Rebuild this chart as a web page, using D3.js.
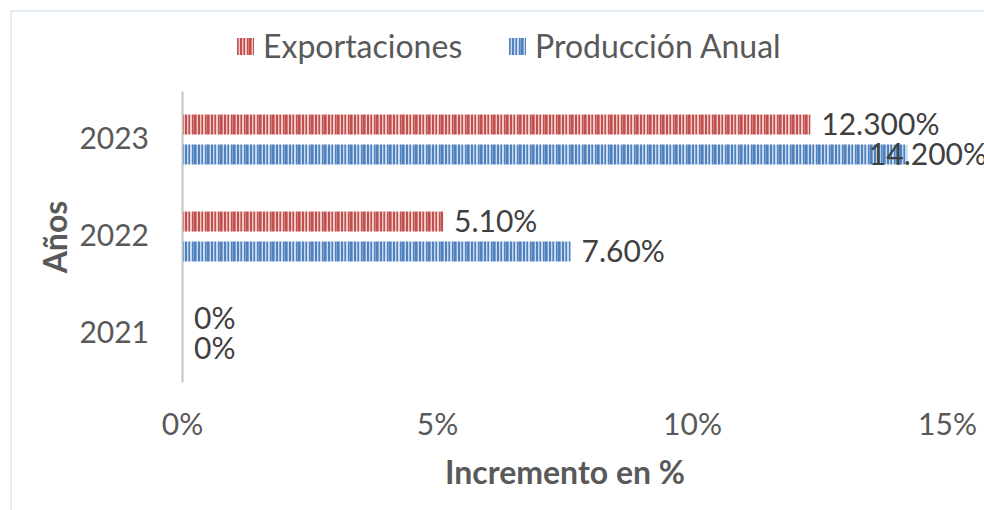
<!DOCTYPE html>
<html>
<head>
<meta charset="utf-8">
<script src="https://cdn.jsdelivr.net/npm/d3@7"></script>
<style>
  html, body { margin: 0; padding: 0; background: #fff; }
  svg { display: block; font-family: Lato, "Open Sans", sans-serif; }
</style>
</head>
<body>
<svg id="chart" width="984" height="510"></svg>
<script>
// Years shown on the category axis (top to bottom)
const years = ["2023", "2022", "2021"];
// Series names, in legend order
const seriesNames = ["Exportaciones", "Producción Anual"];
// Yearly increase, as fractions
const exportaciones = [0.123, 0.051, 0];
const produccion = [0.142, 0.076, 0];
// Data label texts
const exportLabels = ["12.300%", "5.10%", "0%"];
const prodLabels = ["14.200%", "7.60%", "0%"];
// Value axis ticks
const xTicks = [0, 0.05, 0.10, 0.15];
const xTickLabels = ["0%", "5%", "10%", "15%"];

const W = 984, H = 510;
const svg = d3.select("#chart");

const palette = {
  "Exportaciones": { dark: "#c0504d", mid: "#d67e7b", light: "#efc9c8" },
  "Producción Anual": { dark: "#4f81bd", mid: "#7ea3d2", light: "#c9d9ef" }
};

// Striped fills for the bars
const defs = svg.append("defs");
const stripeSeq = ["dark", "mid", "light", "dark", "dark", "light", "mid", "dark", "light", "light", "dark", "mid", "dark"];
seriesNames.forEach((name, i) => {
  const p = defs.append("pattern")
    .attr("id", "stripes" + i)
    .attr("patternUnits", "userSpaceOnUse")
    .attr("width", stripeSeq.length)
    .attr("height", 40);
  stripeSeq.forEach((shade, k) => {
    p.append("rect").attr("x", k).attr("y", 0).attr("width", 1).attr("height", 40)
      .attr("fill", palette[name][shade]);
  });
});

// Chart frame
svg.append("rect")
  .attr("x", 11).attr("y", 11).attr("width", W + 20).attr("height", H + 20)
  .attr("fill", "none").attr("stroke", "#dce7f4").attr("stroke-width", 1.5);

const x = d3.scaleLinear().domain([0, 0.15]).range([182, 947]);
const y = d3.scaleBand().domain(years).range([91, 382]).paddingInner(0.485).paddingOuter(0.2425);
const inner = d3.scaleBand().domain(seriesNames).range([0, y.bandwidth()]).paddingInner(1 / 3);

const rows = years.map((yr, i) => ({
  year: yr,
  values: [
    { name: seriesNames[0], v: exportaciones[i], label: exportLabels[i], idx: 0 },
    { name: seriesNames[1], v: produccion[i], label: prodLabels[i], idx: 1 }
  ]
}));

// Value axis tick labels
const xAxis = d3.axisBottom(x).tickValues(xTicks).tickSize(0).tickPadding(0)
  .tickFormat((d, i) => xTickLabels[i]);
const gx = svg.append("g").attr("transform", "translate(0,414)").call(xAxis);
gx.select(".domain").remove();
gx.selectAll("text").attr("fill", "#595959").attr("font-size", 30)
  .attr("font-family", "Lato, sans-serif").attr("dy", "0.71em");

// Category axis
const yAxis = d3.axisLeft(y).tickSize(0).tickPadding(33);
const gy = svg.append("g").attr("transform", "translate(182,0)").call(yAxis);
gy.select(".domain").attr("stroke", "#c4c4c4").attr("stroke-width", 2);
gy.selectAll("text").attr("fill", "#595959").attr("font-size", 30)
  .attr("font-family", "Lato, sans-serif");

// Bars
const groups = svg.append("g").selectAll("g").data(rows).join("g")
  .attr("transform", d => `translate(0,${y(d.year)})`);

groups.selectAll("rect").data(d => d.values).join("rect")
  .attr("x", x(0) + 1)
  .attr("y", d => inner(d.name))
  .attr("width", d => Math.max(0, x(d.v) - x(0)))
  .attr("height", inner.bandwidth())
  .attr("fill", d => `url(#stripes${d.idx})`);

// Data labels, kept inside the right edge of the plot frame
const labelRight = 987;
groups.selectAll("text.lbl").data(d => d.values).join("text")
  .attr("class", "lbl")
  .attr("y", d => inner(d.name) + inner.bandwidth() / 2)
  .attr("dy", "0.36em")
  .attr("fill", "#404040")
  .attr("font-size", 30)
  .text(d => d.label)
  .attr("x", function (d) {
    const w = this.getComputedTextLength();
    return Math.min(x(d.v) + 12, labelRight - w);
  });

// Axis titles
svg.append("text")
  .attr("x", 565).attr("y", 484)
  .attr("text-anchor", "middle")
  .attr("font-weight", "bold").attr("font-size", 32)
  .attr("fill", "#595959")
  .text("Incremento en %");

svg.append("text")
  .attr("transform", "translate(67,237) rotate(-90)")
  .attr("text-anchor", "middle")
  .attr("font-weight", "bold").attr("font-size", 32)
  .attr("fill", "#595959")
  .text("Años");

// Legend
const legend = svg.append("g").attr("transform", "translate(237,38)");
const legendX = [0, 272];
seriesNames.forEach((name, i) => {
  const g = legend.append("g").attr("transform", `translate(${legendX[i]},0)`);
  g.append("rect").attr("width", 17).attr("height", 17).attr("fill", `url(#stripes${i})`);
  g.append("text").attr("x", 26).attr("y", 8.5).attr("dy", "0.36em")
    .attr("font-size", 32).attr("fill", "#595959").text(name);
});
</script>
</body>
</html>
